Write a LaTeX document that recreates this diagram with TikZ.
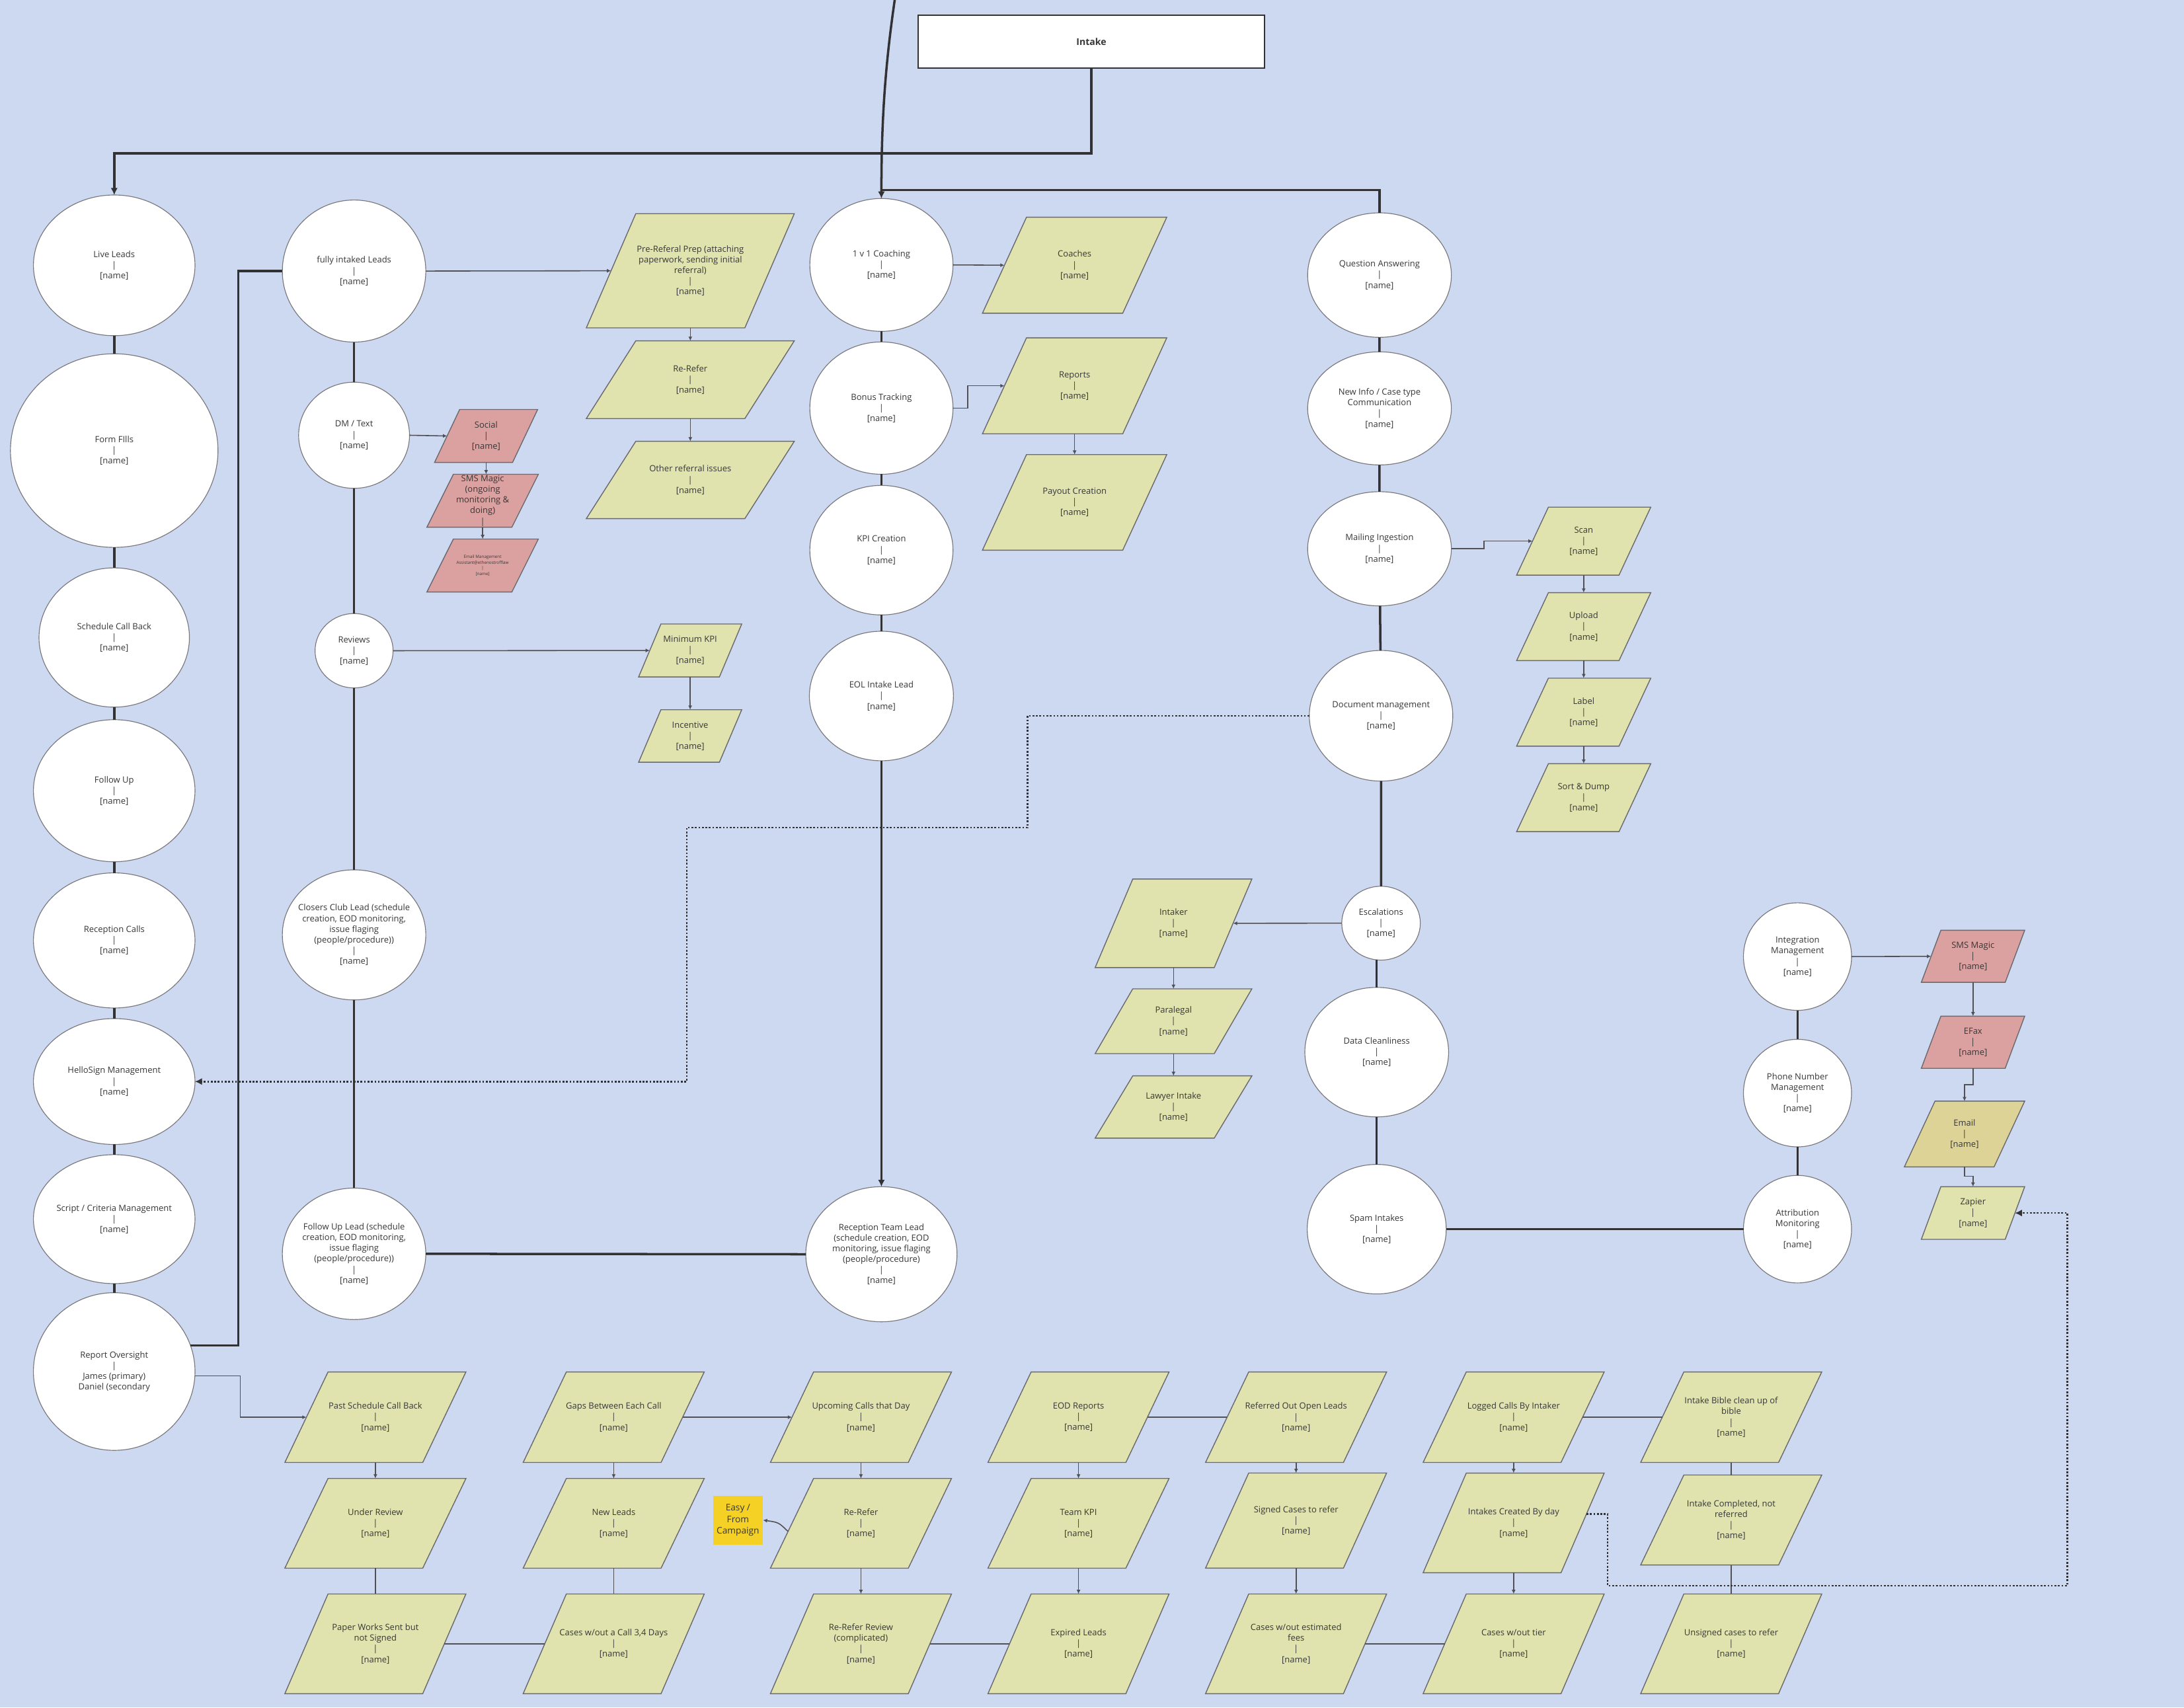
\documentclass[tikz,border=0pt]{standalone}
\usepackage{fontspec}
\setmainfont{Open Sans}
\usetikzlibrary{shapes.geometric,arrows.meta}
\definecolor{bgc}{RGB}{205,216,241}
\definecolor{yg}{RGB}{224,227,174}
\definecolor{pinkc}{RGB}{219,160,160}
\definecolor{tanc}{RGB}{222,211,151}
\definecolor{notec}{RGB}{245,208,37}
\definecolor{ellc}{RGB}{120,120,125}
\definecolor{parc}{RGB}{105,105,110}
\definecolor{linec}{RGB}{50,50,52}
\definecolor{thinc}{RGB}{80,80,85}
\definecolor{txtc}{RGB}{55,55,55}
\newcommand\nmtag{[name]}
\newcommand\mkell[6]{%
  \node[ellbox, minimum width={2*#4*0.6pt}, minimum height={2*#5*0.6pt}] (#1) at (#2,#3) {};
  \node[txt] (#1-t) at (#1.center) {#6};}
\newcommand\mkpara[8]{%
  \filldraw[parline, fill=#7] ({#2-#4/2+#6},{#3-#5/2}) -- ({#2+#4/2},{#3-#5/2}) -- ({#2+#4/2-#6},{#3+#5/2}) -- ({#2-#4/2},{#3+#5/2}) -- cycle;
  \node[txt, minimum width={(#4-#6)*0.6pt}, minimum height={#5*0.6pt}] (#1) at (#2,#3) {#8};}
\tikzset{
  txt/.style={font=\fontsize{3.7}{4.6}\selectfont, text=txtc, align=center, inner sep=0pt, outer sep=0pt},
  tinytxt/.style={font=\fontsize{1.8}{2.5}\selectfont, text=txtc, align=center, inner sep=0pt, outer sep=0pt},
  ellbox/.style={ellipse, draw=ellc, line width=0.33pt, fill=white, inner sep=0pt, outer sep=0pt},
  parline/.style={draw=parc, line width=0.4pt},
  intakebox/.style={rectangle, draw=linec, line width=0.6pt, fill=white, font=\fontsize{4}{5}\selectfont\bfseries, text=txtc, inner sep=0pt},
  notebox/.style={rectangle, fill=notec, font=\fontsize{3.9}{4.9}\selectfont, text=txtc, align=center, inner sep=0pt},
  thickline/.style={draw=linec, line width=1pt},
  thickarr/.style={thickline, -{Latex[length=3pt,width=3pt]}},
  thinline/.style={draw=thinc, line width=0.45pt},
  thinarr/.style={thinline, -{Latex[length=1.8pt,width=1.7pt]}},
  dotline/.style={draw=linec, line width=0.75pt, dash pattern=on 0.75pt off 0.75pt},
  dotarr/.style={dotline, -{Latex[length=3pt,width=3pt]}},
}
\begin{document}
\begin{tikzpicture}[x=0.6pt,y=-0.6pt]
\useasboundingbox (0,0) rectangle (1568,1226);
\fill[bgc] (0,0) rectangle (1568,1226);

% ---------- top ----------
\node[intakebox, minimum width={249*0.6pt}, minimum height={38*0.6pt}] (intake) at (783.5,30) {Intake};

% ---------- column 1 ----------
\mkell{live}{82}{190.5}{58}{50.5}{Live Leads\\|\\\nmtag}
\mkell{form}{82}{323.5}{74.5}{69.5}{Form FIlls\\|\\\nmtag}
\mkell{sched}{82}{457.7}{54}{50}{Schedule Call Back\\|\\\nmtag}
\mkell{follow}{82}{567.7}{58}{51}{Follow Up\\|\\\nmtag}
\mkell{recep}{82}{675.2}{58}{48.5}{Reception Calls\\|\\\nmtag}
\mkell{hello}{82}{776.5}{58}{45.2}{HelloSign Management\\|\\\nmtag}
\mkell{script}{82}{875.3}{58}{46.3}{Script / Criteria Management\\|\\\nmtag}
\mkell{report}{82}{984.7}{58}{56.6}{Report Oversight\\|\\James (primary)\\Daniel (secondary}

% ---------- column 2 ----------
\mkell{fully}{254.2}{194.6}{51.5}{51}{fully intaked Leads\\|\\\nmtag}
\mkell{dm}{254.2}{312.5}{39.8}{38.1}{DM / Text\\|\\\nmtag}
\mkell{reviews}{254.2}{467.2}{28}{26.7}{Reviews\\|\\\nmtag}
\mkell{closers}{254.2}{671.2}{51.5}{46.7}{Closers Club Lead (schedule\\creation, EOD monitoring,\\issue flaging\\(people/procedure))\\|\\\nmtag}
\mkell{fulead}{254.2}{900.2}{51.5}{47.2}{Follow Up Lead (schedule\\creation, EOD monitoring,\\issue flaging\\(people/procedure))\\|\\\nmtag}

\mkpara{social}{349}{313}{74}{38}{18}{pinkc}{Social\\|\\\nmtag}
\mkpara{smsm}{346.5}{359.5}{80}{38}{19}{pinkc}{SMS Magic\\(ongoing\\monitoring \&\\doing)\\|}
\filldraw[parline, fill=pinkc] ({346.5-40+19},387) -- (386.5,387) -- ({386.5-19},425) -- (306.5,425) -- cycle;
\node[tinytxt, minimum width={61*0.6pt}, minimum height={38*0.6pt}] (emailm) at (346.5,406) {Email Management\\Assistant@ethenostrofflaw\\|\\\nmtag};

\mkpara{preref}{495.6}{194.4}{149.3}{82}{35.5}{yg}{Pre-Referal Prep (attaching\\paperwork, sending initial\\referral)\\|\\\nmtag}
\mkpara{rerefer1}{495.6}{272.6}{149.3}{55.8}{35.5}{yg}{Re-Refer\\|\\\nmtag}
\mkpara{other}{495.6}{344.6}{149.3}{55.5}{35.5}{yg}{Other referral issues\\|\\\nmtag}
\mkpara{minkpi}{495.5}{467}{74}{38}{16}{yg}{Minimum KPI\\|\\\nmtag}
\mkpara{incent}{495.5}{528.4}{74}{37.7}{16}{yg}{Incentive\\|\\\nmtag}

% ---------- column 3 ----------
\mkell{coach}{632.8}{190.2}{51.4}{47.7}{1 v 1 Coaching\\|\\\nmtag}
\mkell{bonus}{632.8}{293}{51.4}{47.5}{Bonus Tracking\\|\\\nmtag}
\mkell{kpi}{632.8}{395}{51.4}{46.5}{KPI Creation\\|\\\nmtag}
\mkell{eol}{632.8}{499.7}{51.7}{46.5}{EOL Intake Lead\\|\\\nmtag}
\mkell{rtl}{632.8}{900.5}{54.3}{48.5}{Reception Team Lead\\(schedule creation, EOD\\monitoring, issue flaging\\(people/procedure)\\|\\\nmtag}

\mkpara{coaches}{771.5}{190.4}{132.3}{68.9}{31.6}{yg}{Coaches\\|\\\nmtag}
\mkpara{reports}{771.5}{277}{132.3}{68.9}{31.6}{yg}{Reports\\|\\\nmtag}
\mkpara{payout}{771.5}{360.7}{132.3}{68.6}{31.6}{yg}{Payout Creation\\|\\\nmtag}

% ---------- column 4 ----------
\mkell{qa}{990.4}{197.5}{51.6}{44.7}{Question Answering\\|\\\nmtag}
\mkell{newinfo}{990.4}{293.2}{51.6}{40.6}{New Info / Case type\\Communication\\|\\\nmtag}
\mkell{mailing}{990.4}{394}{51.6}{41}{Mailing Ingestion\\|\\\nmtag}
\mkell{docm}{991.5}{513.9}{51.5}{46.9}{Document management\\|\\\nmtag}
\mkell{esc}{991.5}{662.8}{28.2}{26.5}{Escalations\\|\\\nmtag}
\mkell{dclean}{988.4}{755.4}{51.6}{46.5}{Data Cleanliness\\|\\\nmtag}
\mkell{spam}{988.4}{882.5}{49.9}{46.5}{Spam Intakes\\|\\\nmtag}

\mkpara{intaker}{842.5}{662.9}{112.5}{63.6}{27}{yg}{Intaker\\|\\\nmtag}
\mkpara{paraleg}{842.5}{733.2}{112.5}{46.5}{27}{yg}{Paralegal\\|\\\nmtag}
\mkpara{lawyer}{842.5}{794.8}{112.5}{44.7}{27}{yg}{Lawyer Intake\\|\\\nmtag}

\mkpara{scan}{1137}{388.5}{96.3}{48.8}{22.8}{yg}{Scan\\|\\\nmtag}
\mkpara{upload}{1137}{449.9}{96.3}{48.8}{22.8}{yg}{Upload\\|\\\nmtag}
\mkpara{label}{1137}{511.3}{96.3}{48.8}{22.8}{yg}{Label\\|\\\nmtag}
\mkpara{sort}{1137}{572.7}{96.3}{48.8}{22.8}{yg}{Sort \& Dump\\|\\\nmtag}

% ---------- right ----------
\mkell{integ}{1290.5}{686.8}{38.8}{38.6}{Integration\\Management\\|\\\nmtag}
\mkell{phone}{1290.5}{784.8}{38.8}{38.6}{Phone Number\\Management\\|\\\nmtag}
\mkell{attr}{1290.5}{882.5}{38.8}{38.6}{Attribution\\Monitoring\\|\\\nmtag}

\mkpara{smsr}{1416.5}{686.6}{74.2}{37.4}{14}{pinkc}{SMS Magic\\|\\\nmtag}
\mkpara{efax}{1416.5}{748.3}{74.2}{37.4}{14}{pinkc}{EFax\\|\\\nmtag}
\mkpara{email}{1410.4}{814.2}{86.4}{47.2}{22}{tanc}{Email\\|\\\nmtag}
\mkpara{zapier}{1416.5}{870.9}{74.2}{37.8}{14}{yg}{Zapier\\|\\\nmtag}

% ---------- bottom grid ----------
\mkpara{pscb}{269.5}{1017.5}{130}{65}{31}{yg}{Past Schedule Call Back\\|\\\nmtag}
\mkpara{gaps}{440.6}{1017.5}{130}{65}{31}{yg}{Gaps Between Each Call\\|\\\nmtag}
\mkpara{upcoming}{618.1}{1017.5}{130}{65}{31}{yg}{Upcoming Calls that Day\\|\\\nmtag}
\mkpara{eod}{774.3}{1017.5}{130}{65}{31}{yg}{EOD Reports\\|\\\nmtag}
\mkpara{referred}{930.5}{1017.5}{130}{65}{31}{yg}{Referred Out Open Leads\\|\\\nmtag}
\mkpara{logged}{1086.7}{1017.5}{130}{65}{31}{yg}{Logged Calls By Intaker\\|\\\nmtag}
\mkpara{bible}{1242.9}{1017.5}{130}{65}{31}{yg}{Intake Bible clean up of\\bible\\|\\\nmtag}

\mkpara{under}{269.5}{1093.7}{130}{64.4}{31}{yg}{Under Review\\|\\\nmtag}
\mkpara{newleads}{440.6}{1093.7}{130}{64.4}{31}{yg}{New Leads\\|\\\nmtag}
\mkpara{rerefer2}{618.1}{1093.7}{130}{64.4}{31}{yg}{Re-Refer\\|\\\nmtag}
\mkpara{teamkpi}{774.3}{1093.7}{130}{64.4}{31}{yg}{Team KPI\\|\\\nmtag}
\mkpara{signed}{930.5}{1091.7}{130}{68.3}{31}{yg}{Signed Cases to refer\\|\\\nmtag}
\mkpara{intcreated}{1086.7}{1093.4}{130}{71.6}{31}{yg}{Intakes Created By day\\|\\\nmtag}
\mkpara{intcomp}{1242.9}{1091.3}{130}{64.6}{31}{yg}{Intake Completed, not\\referred\\|\\\nmtag}

\mkpara{paper}{269.5}{1180.2}{130}{71.6}{31}{yg}{Paper Works Sent but\\not Signed\\|\\\nmtag}
\mkpara{casescall}{440.6}{1180.2}{130}{71.6}{31}{yg}{Cases w/out a Call 3,4 Days\\|\\\nmtag}
\mkpara{rrreview}{618.1}{1180.2}{130}{71.6}{31}{yg}{Re-Refer Review\\(complicated)\\|\\\nmtag}
\mkpara{expired}{774.3}{1180.2}{130}{71.6}{31}{yg}{Expired Leads\\|\\\nmtag}
\mkpara{cwfees}{930.5}{1180.2}{130}{71.6}{31}{yg}{Cases w/out estimated\\fees\\|\\\nmtag}
\mkpara{cwtier}{1086.7}{1180.2}{130}{71.6}{31}{yg}{Cases w/out tier\\|\\\nmtag}
\mkpara{unsigned}{1242.9}{1180.2}{130}{71.6}{31}{yg}{Unsigned cases to refer\\|\\\nmtag}

\node[notebox, minimum width={35.3*0.6pt}, minimum height={35.3*0.6pt}] (easy) at (529.8,1091.4) {Easy /\\From\\Campaign};

% ---------- coordinates ----------
\coordinate (j1) at (783.5,110);
\coordinate (topin) at (642.5,-1);
\coordinate (j2) at (632.8,136.5);
\coordinate (j3) at (171,194.6);
\coordinate (d1) at (737.7,594.1);
\coordinate (d2) at (493.1,776.5);
\coordinate (ds) at (1139,1086.9);
\coordinate (z1) at (1154.1,1138.4);
\coordinate (z2) at (1484.3,1138.4);
\coordinate (ezs) at (565.7,1099.5);

% ---------- thick connectors ----------
\draw[thickarr] (intake.south) -- (j1) -| (live.north);
\draw[thickarr] (topin) .. controls (635,50) and (632.8,90) .. (coach.north);
\draw[thickline] (j2) -| (qa.north);
\draw[thickline] (live) -- (form) (form) -- (sched) (sched) -- (follow) (follow) -- (recep) (recep) -- (hello) (hello) -- (script) (script) -- (report);
\draw[thickline] (fully) -- (dm) (dm) -- (reviews) (reviews) -- (closers) (closers) -- (fulead);
\draw[thickline] (report.19) -| (j3) -- (fully.west);
\draw[thickline] (coach) -- (bonus) (bonus) -- (kpi) (kpi) -- (eol);
\draw[thickarr] (eol.south) -- (rtl.north);
\draw[thickline] (fulead.east) -- (rtl.west);
\draw[thickline] (qa) -- (newinfo) (newinfo) -- (mailing) (mailing) -- (docm) (docm) -- (esc);
\draw[thickline] (esc.south -| dclean.north) -- (dclean.north);
\draw[thickline] (dclean) -- (spam);
\draw[thickline] (spam.east) -- (attr.west);
\draw[thickline] (integ) -- (phone) (phone) -- (attr);

% ---------- thin connectors ----------
\draw[thinarr] (fully.east) -- (preref.west);
\draw[thinarr] (dm.east) -- (social.west);
\draw[thinarr] (reviews.east) -- (minkpi.west);
\draw[thinarr] (preref.south) -- (rerefer1.north);
\draw[thinarr] (rerefer1.south) -- (other.north);
\draw[thinarr] (social.south) -- (social.south |- smsm.north);
\draw[thinarr] (smsm.south) -- (emailm.north);
\draw[thinarr] (minkpi.south) -- (incent.north);
\draw[thinarr] (coach.east) -- (coaches.west);
\draw[thinarr] (bonus.east) -- ++(10.6,0) |- (reports.west);
\draw[thinarr] (reports.south) -- (payout.north);
\draw[thinarr] (mailing.east) -- ++(23.4,0) |- (scan.west);
\draw[thinarr] (scan.south) -- (upload.north);
\draw[thinarr] (upload.south) -- (label.north);
\draw[thinarr] (label.south) -- (sort.north);
\draw[thinarr] (esc.west) -- (intaker.east);
\draw[thinarr] (intaker.south) -- (paraleg.north);
\draw[thinarr] (paraleg.south) -- (lawyer.north);
\draw[thinarr] (integ.east) -- (smsr.west);
\draw[thinarr] (smsr.south) -- (efax.north);
\draw[thinarr] (efax.south) -- ++(0,11.8) -| (email.north);
\draw[thinarr] (email.south) -- ++(0,6.7) -| (zapier.north);
\draw[thinarr] (report.-3) -- ++(32.5,0) |- (pscb.west);

\draw[thinarr] (pscb.south) -- (under.north);
\draw[thinline] (under.south) -- (paper.north);
\draw[thinline] (paper.east) -- (casescall.west);
\draw[thinline] (casescall.north) -- (newleads.south);
\draw[thinarr] (gaps.south) -- (newleads.north);
\draw[thinarr] (gaps.east) -- (upcoming.west);
\draw[thinarr] (upcoming.south) -- (rerefer2.north);
\draw[thinarr] (rerefer2.south) -- (rrreview.north);
\draw[thinline] (rrreview.east) -- (expired.west);
\draw[thinarr] (eod.south) -- (teamkpi.north);
\draw[thinarr] (teamkpi.south) -- (expired.north);
\draw[thinline] (eod.east) -- (referred.west);
\draw[thinarr] (referred.south) -- (signed.north);
\draw[thinarr] (signed.south) -- (cwfees.north);
\draw[thinline] (cwfees.east) -- (cwtier.west);
\draw[thinarr] (logged.south) -- (intcreated.north);
\draw[thinarr] (intcreated.south) -- (cwtier.north);
\draw[thinline] (logged.east) -- (bible.west);
\draw[thinline] (bible.south) -- (intcomp.north);
\draw[thinline] (intcomp.south) -- (unsigned.north);
\draw[thinarr] (ezs) .. controls (559,1093) .. (easy.east);

% ---------- dotted connectors ----------
\draw[dotarr] (docm.west) -| (d1) -| (d2) -- (hello.east);
\draw[dotarr] (ds) -| (z1) -- (z2) |- (zapier.east);
\end{tikzpicture}
\end{document}
